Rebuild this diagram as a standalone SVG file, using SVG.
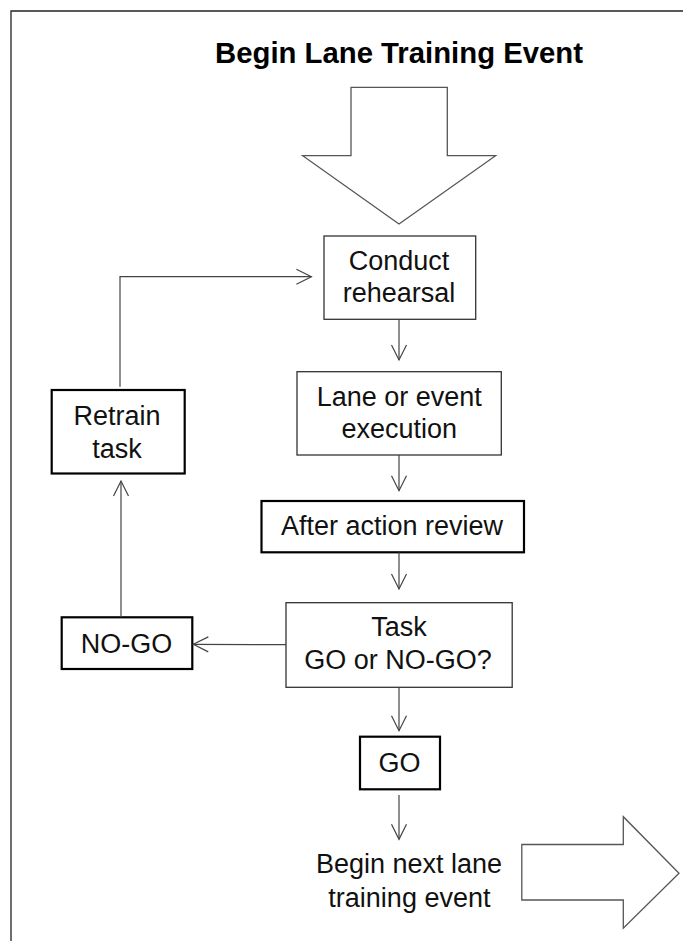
<svg xmlns="http://www.w3.org/2000/svg" width="683" height="941" viewBox="0 0 683 941">
<style>
  .t { font-family: "Liberation Sans", Arial, sans-serif; font-size: 27px; fill: #111; text-anchor: middle; }
  .title { font-family: "Liberation Sans", Arial, sans-serif; font-size: 29.3px; font-weight: bold; fill: #000; text-anchor: middle; }
  .thin { fill: #fff; stroke: #333; stroke-width: 1.3; }
  .thick { fill: #fff; stroke: #000; stroke-width: 2.2; }
  .big { fill: #fff; stroke: #555; stroke-width: 1.3; stroke-linejoin: miter; }
  .conn { fill: none; stroke: #444; stroke-width: 1.2; marker-end: url(#open); }
</style>
<defs>
  <marker id="open" markerUnits="userSpaceOnUse" markerWidth="20" markerHeight="20" viewBox="-2 -10 19 20" refX="15" refY="0" orient="auto">
    <path d="M0,-7.5 L15,0 L0,7.5" fill="none" stroke="#444" stroke-width="1.2"/>
  </marker>
</defs>
<rect width="683" height="941" fill="#fff"/>
<g id="frame">
  <path d="M11,941 L11,11 L683,11" fill="none" stroke="#222" stroke-width="1.3"/>
</g>
<g id="title">
  <text class="title" x="399" y="62.5">Begin Lane Training Event</text>
</g>
<g id="start-arrow">
  <path class="big" d="M351,87.3 L447.3,87.3 L447.3,155.7 L495.6,155.7 L399,224 L302.7,155.7 L351,155.7 Z"/>
</g>
<g id="conduct">
  <rect class="thin" x="324" y="236" width="151.7" height="83.3"/>
  <text class="t" x="399" y="270">Conduct</text>
  <text class="t" x="399" y="302.3">rehearsal</text>
</g>
<g id="lane">
  <rect class="thin" x="297" y="371.7" width="204.3" height="83.3"/>
  <text class="t" x="399.3" y="405.5">Lane or event</text>
  <text class="t" x="399.3" y="438">execution</text>
</g>
<g id="retrain">
  <rect class="thick" x="51.7" y="390" width="133" height="83.5"/>
  <text class="t" x="117" y="424.5">Retrain</text>
  <text class="t" x="117" y="457.5">task</text>
</g>
<g id="aar">
  <rect class="thick" x="261.5" y="501" width="262.5" height="51.3"/>
  <text class="t" x="392" y="535">After action review</text>
</g>
<g id="task">
  <rect class="thin" x="286" y="602.7" width="226.2" height="84.6"/>
  <text class="t" x="399" y="636">Task</text>
  <text class="t" x="398" y="668.8">GO or NO-GO?</text>
</g>
<g id="nogo">
  <rect class="thick" x="61.7" y="617.3" width="130.6" height="51.7"/>
  <text class="t" x="126.5" y="652.7">NO-GO</text>
</g>
<g id="go">
  <rect class="thick" x="360" y="736.7" width="80" height="52.6"/>
  <text class="t" x="399.5" y="772.3">GO</text>
</g>
<g id="next">
  <text class="t" x="409" y="873.3">Begin next lane</text>
  <text class="t" x="409.4" y="906.7">training event</text>
</g>
<g id="end-arrow">
  <path class="big" d="M521.8,844.5 L623.3,844.5 L623.3,816.7 L679,873.3 L623.3,928.3 L623.3,900 L521.8,900 Z"/>
</g>
<g id="connectors">
  <line class="conn" x1="399" y1="319.3" x2="399" y2="360"/>
  <line class="conn" x1="399" y1="455" x2="399" y2="490.7"/>
  <line class="conn" x1="399" y1="552.3" x2="399" y2="589"/>
  <line class="conn" x1="286" y1="644.7" x2="193.3" y2="644.3"/>
  <line class="conn" x1="399" y1="687.3" x2="399" y2="730.7"/>
  <line class="conn" x1="399" y1="795" x2="399" y2="839.3"/>
  <line class="conn" x1="121" y1="617.3" x2="121" y2="481"/>
  <path class="conn" d="M120,386.7 L120,276.7 L311.4,276.7"/>
</g>
</svg>
